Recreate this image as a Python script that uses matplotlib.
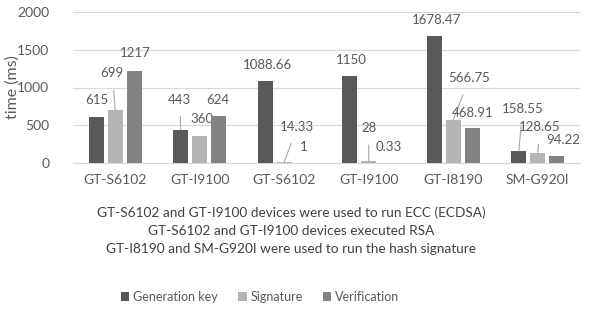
import matplotlib.pyplot as plt
import numpy as np

plt.rcParams['font.family'] = ['Lato', 'DejaVu Sans']

devices = ["GT-S6102", "GT-I9100", "GT-S6102", "GT-I9100", "GT-I8190", "SM-G920I"]
generation_key = [615, 443, 1088.66, 1150, 1678.47, 158.55]
signature = [699, 360, 14.33, 28, 566.75, 128.65]
verification = [1217, 624, 1, 0.33, 468.91, 94.22]
gen_labels = ["615", "443", "1088.66", "1150", "1678.47", "158.55"]
sig_labels = ["699", "360", "14.33", "28", "566.75", "128.65"]
ver_labels = ["1217", "624", "1", "0.33", "468.91", "94.22"]
series_names = ["Generation key", "Signature", "Verification"]
caption = ("GT-S6102 and GT-I9100 devices were used to run ECC (ECDSA)\n"
           "GT-S6102 and GT-I9100 devices executed RSA\n"
           "GT-I8190 and SM-G920I were used to run the hash signature")

# label offsets in pixels (dx, dy) and whether a leader line is drawn
gen_offsets = [(1, 17, False), (-1, 30, True), (2, 16, False), (2, 16, False), (2, 16, False), (4, 42, True)]
sig_offsets = [(-3, 37, True), (2, 17, False), (13, 35, True), (0, 33, True), (16, 42, True), (2, 26, True)]
ver_offsets = [(1, 18, False), (-1, 16, False), (0, 16, False), (1, 16, False), (0, 15, False), (6, 16, False)]

colors = ["#595959", "#b4b4b4", "#828282"]
text_color = "#595959"

fig = plt.figure(figsize=(5.89, 3.12), dpi=100)
ax = fig.add_axes([73 / 589, 1 - 163 / 312, (580 - 73) / 589, (163 - 12) / 312])

x = np.arange(len(devices))
width = 0.18
step = 0.225
px_to_pt = 0.72

all_values = [generation_key, signature, verification]
all_labels = [gen_labels, sig_labels, ver_labels]
all_offsets = [gen_offsets, sig_offsets, ver_offsets]

for i, (vals, labs, offs) in enumerate(zip(all_values, all_labels, all_offsets)):
    xs = x + (i - 1) * step
    ax.bar(xs, vals, width, color=colors[i], label=series_names[i], zorder=3)
    for xi, v, lab, (dx, dy, leader) in zip(xs, vals, labs, offs):
        arrow = None
        if leader:
            arrow = dict(arrowstyle="-", color="#a6a6a6", lw=0.8, shrinkA=6, shrinkB=0)
        ax.annotate(lab, (xi, v), xytext=(dx * px_to_pt, dy * px_to_pt),
                    textcoords="offset points", ha="center", va="center",
                    fontsize=9.5, color=text_color, arrowprops=arrow)

ax.set_ylim(0, 2000)
ax.set_xlim(-0.5, len(devices) - 0.5)
ax.set_yticks([0, 500, 1000, 1500, 2000])
ax.set_xticks(x)
ax.set_xticklabels(devices)
ax.grid(axis="y", color="#d9d9d9", lw=0.9, zorder=0)
for side in ["top", "right", "left"]:
    ax.spines[side].set_visible(False)
ax.spines["bottom"].set_color("#d9d9d9")
ax.tick_params(axis="both", length=0, labelsize=10, colors=text_color)
ax.tick_params(axis="x", pad=8)
ax.tick_params(axis="y", pad=17)
ax.set_ylabel("time (ms)", fontsize=11.5, color=text_color, va="center")
ax.yaxis.set_label_coords((13 - 73) / 507, 0.5)

fig.text(291 / 589, 1 - 231 / 312, caption, ha="center", va="center",
         fontsize=9.8, color="#404040", linespacing=1.6)

fig.legend(loc="center", bbox_to_anchor=(260 / 589, 1 - 297 / 312), ncol=3,
           frameon=False, fontsize=9, handlelength=0.7, handleheight=0.7,
           handletextpad=0.3, columnspacing=1.6, labelcolor=text_color)

fig.savefig("out.png", dpi=100)
